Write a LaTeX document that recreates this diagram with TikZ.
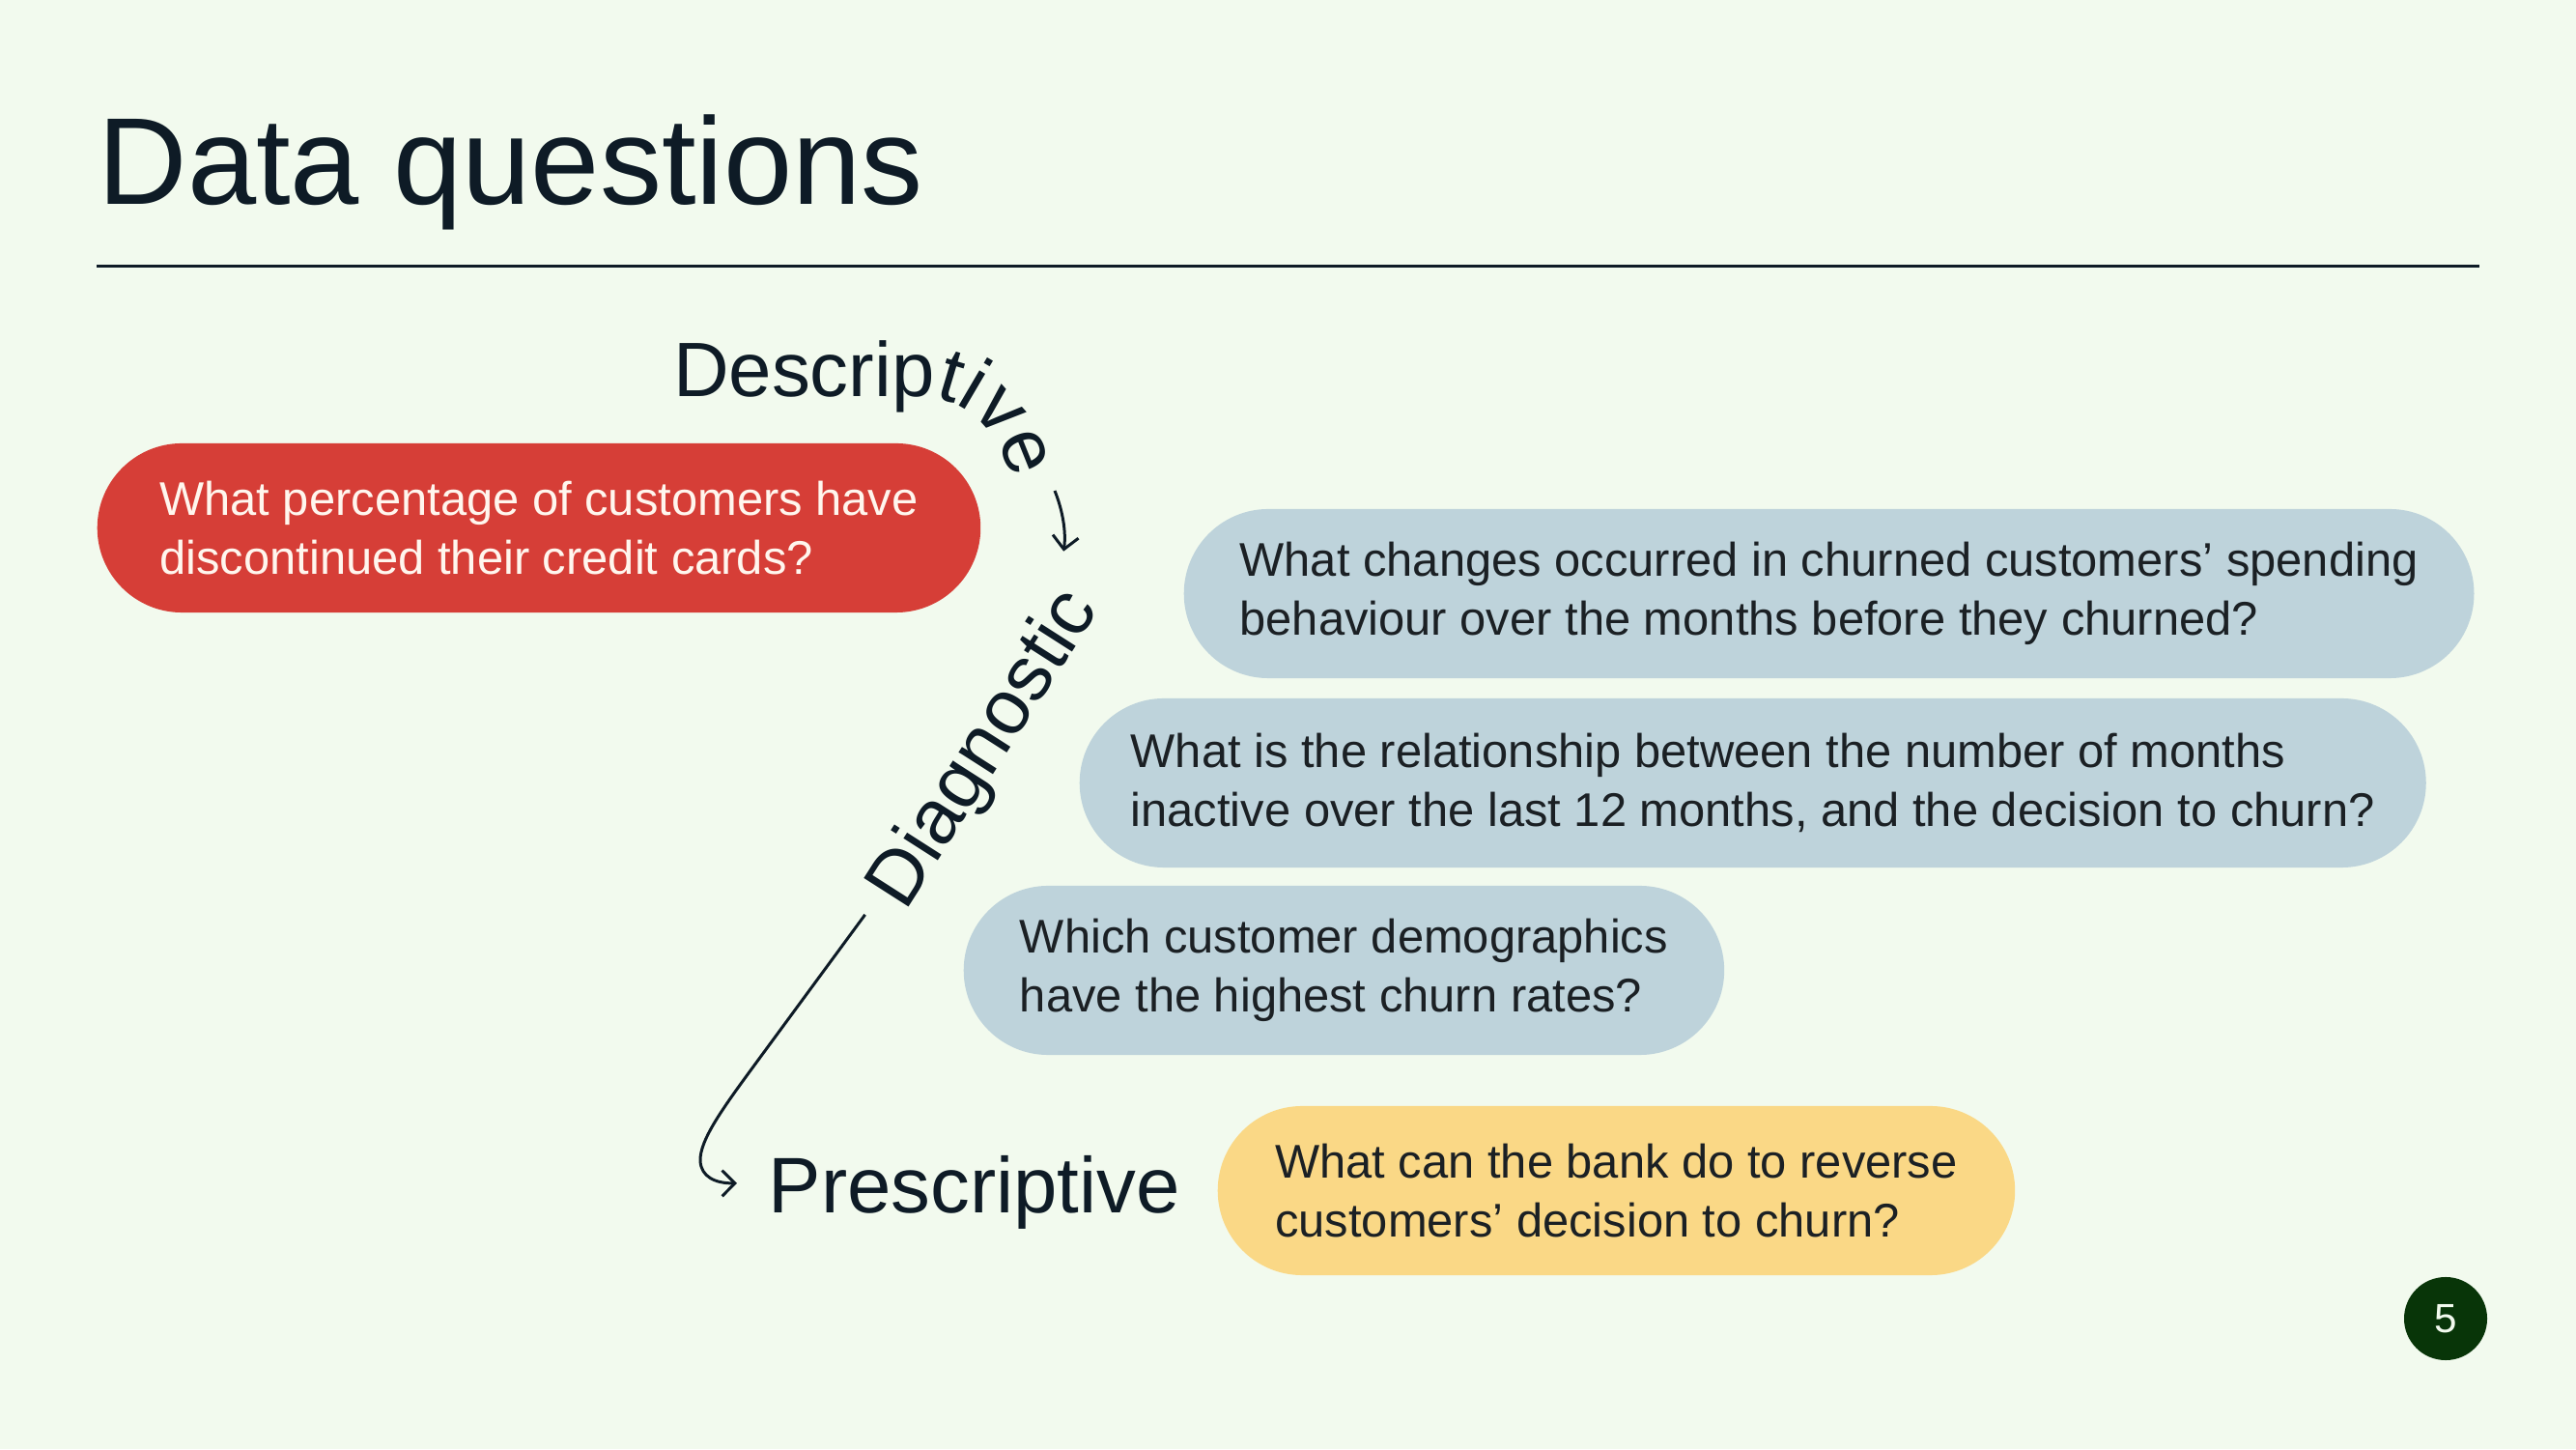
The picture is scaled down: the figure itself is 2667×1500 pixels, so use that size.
\documentclass[tikz,border=0pt]{standalone}
\usepackage{fontspec}
\setmainfont{Liberation Sans}
\usetikzlibrary{arrows.meta,decorations.text}
\definecolor{pagebg}{HTML}{F2FAEE}
\definecolor{ink}{HTML}{0E1B26}
\definecolor{qred}{HTML}{D63E37}
\definecolor{qblue}{HTML}{BED3DB}
\definecolor{qyellow}{HTML}{FAD886}
\definecolor{qtext}{HTML}{1B2024}
\definecolor{qwhite}{HTML}{FFF6EE}
\definecolor{badge}{HTML}{083508}

\begin{document}
\begin{tikzpicture}[x=0.01cm,y=0.01cm,
	question/.style={rectangle,rounded corners=0.875cm,minimum height=1.75cm,inner xsep=0.53cm,anchor=west,align=left,text=qtext,font=\fontsize{13.9}{17.3}\selectfont},
	kind/.style={text=ink,inner sep=0pt,anchor=base west,font=\fontsize{22.7}{27}\selectfont},
	flow/.style={ink,line width=0.85pt,-{Straight Barb[length=3.8pt,width=7.6pt]}}]
	\fill[pagebg] (0,0) rectangle (2667,1500);
	\useasboundingbox (0,0) rectangle (2667,1500);

	\node[anchor=base west,inner sep=0pt,text=ink,font=\fontsize{36.4}{44}\selectfont] (title) at (101,1288) {Data questions};
	\draw[ink,line width=0.85pt] (100,1224.5) -- (2567,1224.5);

	\node[question,fill=qred,text=qwhite,minimum width=9.14cm] (descq) at (100,953.5) {What percentage of customers have\\discontinued their credit cards?};
	\node[question,fill=qblue,minimum width=13.35cm] (diagqa) at (1225,885.5) {What changes occurred in churned customers' spending\\behaviour over the months before they churned?};
	\node[question,fill=qblue,minimum width=13.78cm] (diagqb) at (1117,689.5) {What is the relationship between the number of months\\inactive over the last 12 months, and the decision to churn?};
	\node[question,fill=qblue,minimum width=7.87cm] (diagqc) at (997,495.5) {Which customer demographics\\have the highest churn rates?};
	\node[question,fill=qyellow,minimum width=8.25cm] (prescq) at (1260,267.5) {What can the bank do to reverse\\customers' decision to churn?};

	\path[decorate,decoration={text along path,text={|\fontsize{22.7}{27}\selectfont\color{ink}|Descriptive}}] (697,1089) -- (955,1089) arc[start angle=90,end angle=46.7,radius=82] arc[start angle=46.7,end angle=-10,radius=122];
	\node[kind,rotate=57.4] (diag) at (937,555) {Diagnostic};
	\node[kind,font=\fontsize{23.2}{27}\selectfont] (presc) at (795,245) {Prescriptive};

	\coordinate (tiveend) at (1092,992);
	\draw[flow] (tiveend) .. controls (1100,972) and (1104,950) .. ([shift={(-20,48)}]diag.east);
	\draw[flow] ([shift={(-24,-13)}]diag.west) -- (783,400) .. controls (750,355) and (724,320) .. (725,298) .. controls (726,282) and (740,275) .. ([shift={(-32,9)}]presc.west);

	\node[circle,fill=badge,minimum size=0.86cm,inner sep=0pt,text=pagebg,font=\fontsize{12}{14}\selectfont] (pagenum) at (2532,135) {5};
\end{tikzpicture}
\end{document}
